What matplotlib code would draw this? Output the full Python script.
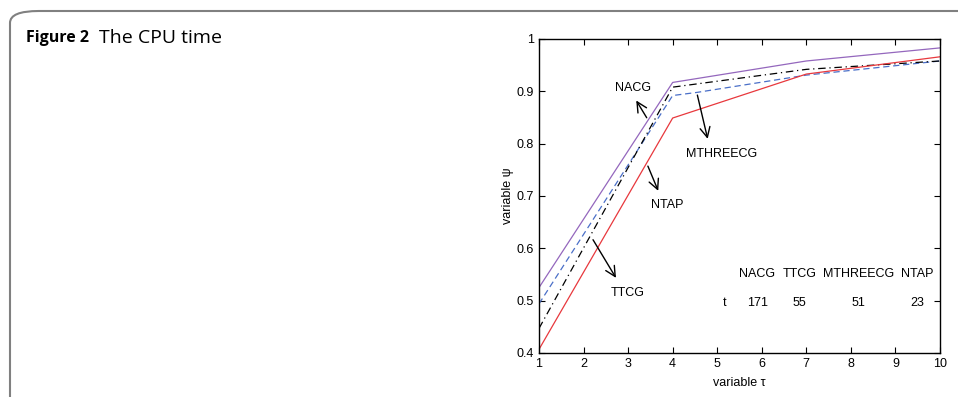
import matplotlib.pyplot as plt
from matplotlib.patches import FancyBboxPatch

# curves
nacg_x = [1, 4, 7, 10]
nacg_y = [0.525, 0.917, 0.958, 0.983]
mthree_x = [1, 4, 4.55, 7, 10]
mthree_y = [0.494, 0.892, 0.898, 0.931, 0.958]
ttcg_x = [1, 4, 7, 10]
ttcg_y = [0.447, 0.908, 0.942, 0.958]
ntap_x = [1, 4, 7, 10]
ntap_y = [0.407, 0.849, 0.933, 0.966]

table_names = ['NACG', 'TTCG', 'MTHREECG', 'NTAP']
table_times = ['171', '55', '51', '23']
table_x = [5.9, 6.85, 8.18, 9.48]

plt.rcParams['font.family'] = ['Liberation Sans', 'DejaVu Sans']

fig = plt.figure(figsize=(9.58, 3.97), dpi=100)

# rounded frame around the figure panel
frame = FancyBboxPatch((10 / 958, -0.2), 1.2, 1.2 - 11 / 397,
                       boxstyle='round,pad=0,rounding_size=0.03',
                       transform=fig.transFigure, fill=False,
                       edgecolor='#808080', linewidth=1.5, clip_on=False)
fig.patches.append(frame)

fig.text(26 / 958, 1 - 38 / 397, 'Figure 2', fontsize=11.5, fontweight='bold',
         family=['Open Sans', 'DejaVu Sans'], va='center', ha='left')
fig.text(99 / 958, 1 - 38 / 397, 'The CPU time', fontsize=14,
         family=['Open Sans', 'DejaVu Sans'], va='center', ha='left')

ax = fig.add_axes([539 / 958, 1 - 353 / 397, 401 / 958, 314 / 397])
ax.plot(nacg_x, nacg_y, color='#9467bd', lw=0.9)
ax.plot(mthree_x, mthree_y, color='#4a6fc8', lw=0.9, ls=(0, (5, 3)))
ax.plot(ttcg_x, ttcg_y, color='black', lw=0.9, ls=(0, (6, 3, 1, 3)))
ax.plot(ntap_x, ntap_y, color='#e8383d', lw=0.9)

ax.set_xlim(1, 10)
ax.set_ylim(0.4, 1)
ax.set_xticks(range(1, 11))
ax.set_yticks([0.4, 0.5, 0.6, 0.7, 0.8, 0.9, 1.0])
ax.set_yticklabels(['0.4', '0.5', '0.6', '0.7', '0.8', '0.9', '1'])
ax.tick_params(direction='in', top=True, right=True, labelsize=9, length=4, width=0.8)
for s in ax.spines.values():
    s.set_linewidth(1.0)
ax.set_xlabel('variable \u03c4', fontsize=9, labelpad=5)
ax.set_ylabel('variable \u03c8', fontsize=9, labelpad=2)

arrow = dict(arrowstyle='->', color='black', lw=1.0, mutation_scale=18)
ax.annotate('', xy=(3.15, 0.887), xytext=(3.45, 0.845), arrowprops=arrow)
ax.text(3.12, 0.906, 'NACG', fontsize=9, ha='center', va='center')
ax.annotate('', xy=(4.80, 0.804), xytext=(4.54, 0.898), arrowprops=arrow)
ax.text(5.1, 0.780, 'MTHREECG', fontsize=9, ha='center', va='center')
ax.annotate('', xy=(3.70, 0.705), xytext=(3.42, 0.762), arrowprops=arrow)
ax.text(3.87, 0.683, 'NTAP', fontsize=9, ha='center', va='center')
ax.annotate('', xy=(2.76, 0.539), xytext=(2.18, 0.621), arrowprops=arrow)
ax.text(2.98, 0.515, 'TTCG', fontsize=9, ha='center', va='center')

for name, t, x in zip(table_names, table_times, table_x):
    ax.text(x, 0.551, name, fontsize=9, ha='center', va='center')
    ax.text(x, 0.496, t, fontsize=9, ha='center', va='center')
ax.text(5.17, 0.496, 't', fontsize=9, ha='center', va='center')

fig.savefig('out.png', dpi=100)
